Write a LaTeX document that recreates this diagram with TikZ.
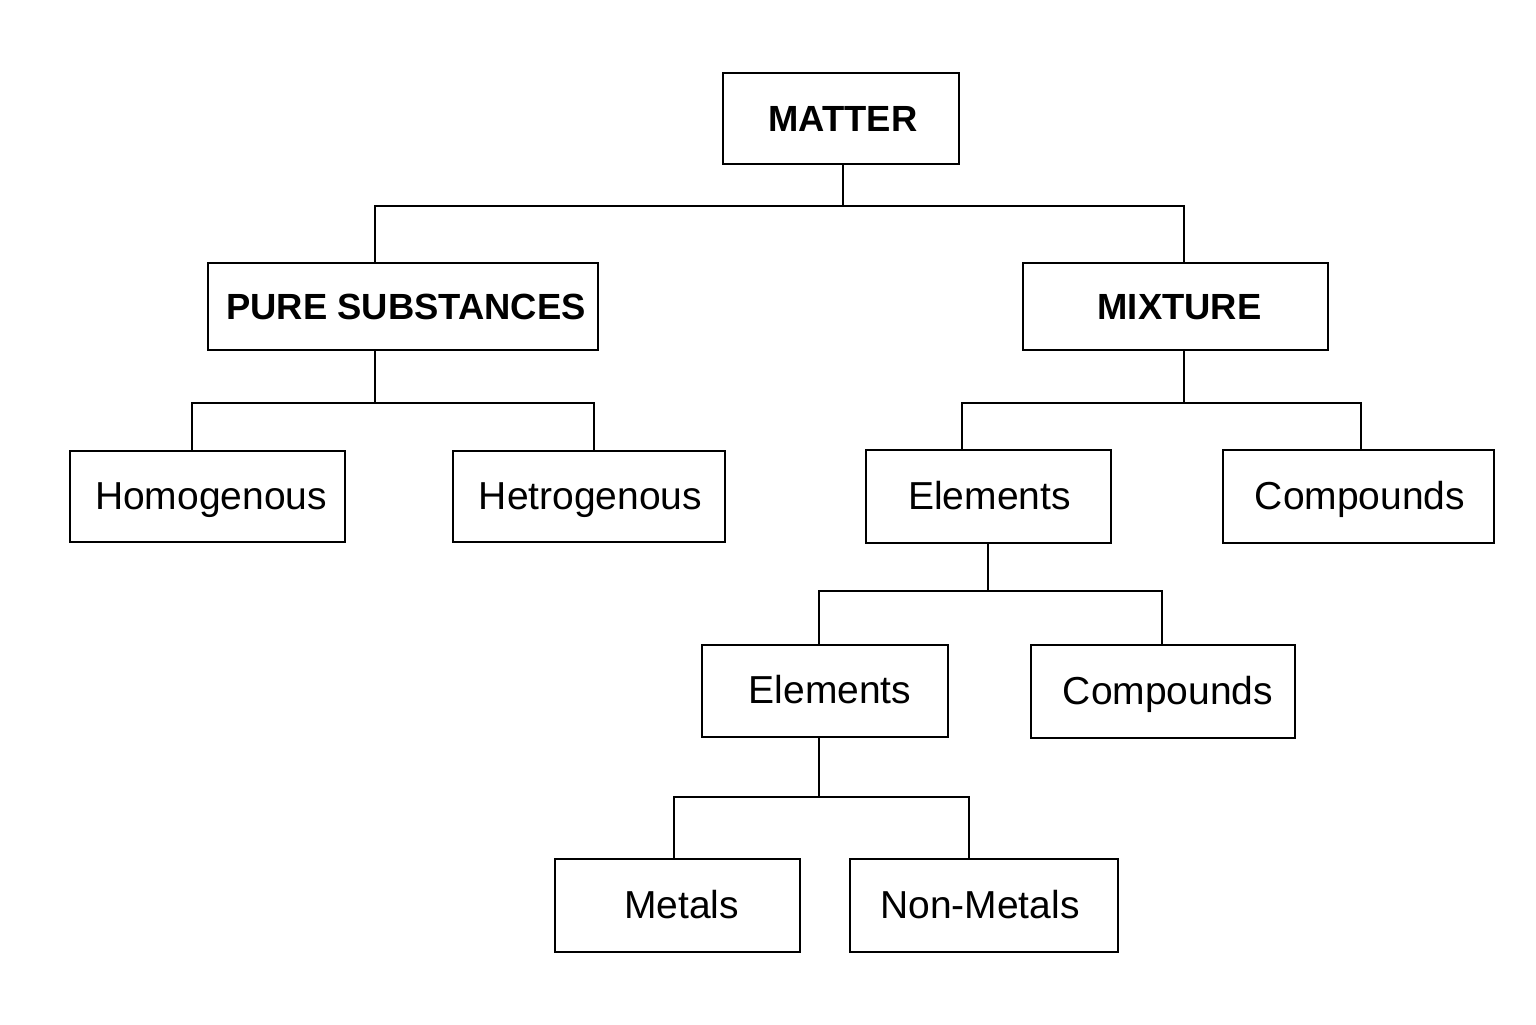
\documentclass[tikz,border=0pt]{standalone}
\usepackage{fontspec}
\setmainfont{Liberation Sans}
\begin{document}
\begin{tikzpicture}[x=0.5pt,y=-0.5pt,
  box/.style={draw, line width=1pt, inner sep=0pt, text height=1.25em, text depth=0pt},
  bold/.style={box, font=\fontsize{18.2}{20}\selectfont\bfseries},
  reg/.style={box, font=\fontsize{19.5}{21}\selectfont},
  conn/.style={line width=0.9pt}]
\useasboundingbox (0,0) rectangle (1536,1024);
\fill[white] (0,0) rectangle (1536,1024);
% boxes
\node[bold, minimum width=118pt, minimum height=45.5pt] (matter) at (841,118.5) {\hspace{2pt}MATTER};
\node[bold, minimum width=195pt, minimum height=43.5pt] (pure) at (403,306.5) {\hspace{3pt}PURE SUBSTANCES};
\node[bold, minimum width=152.5pt, minimum height=43.5pt] (mix) at (1175.5,306.5) {\hspace{4pt}MIXTURE};
\node[reg, minimum width=137.5pt, minimum height=45.5pt] (homo) at (207.5,496.5) {\hspace{3.5pt}Homogenous};
\node[reg, minimum width=136pt, minimum height=45.5pt] (hetro) at (589,496.5) {\hspace{1.5pt}Hetrogenous};
\node[reg, minimum width=122.5pt, minimum height=46.5pt] (elA) at (988.5,496.5) {\hspace{1pt}Elements};
\node[reg, minimum width=135.5pt, minimum height=46.5pt] (coA) at (1358.5,496.5) {\hspace{1.5pt}Compounds};
\node[reg, minimum width=123pt, minimum height=46pt] (elB) at (825,691) {\hspace{5pt}Elements};
\node[reg, minimum width=132pt, minimum height=46.5pt] (coB) at (1163,691.5) {\hspace{5pt}Compounds};
\node[reg, minimum width=122.5pt, minimum height=46.5pt] (met) at (677.5,905.5) {\hspace{4pt}Metals};
\node[reg, minimum width=134pt, minimum height=46.5pt] (non) at (984,905.5) {\hspace{-4pt}Non-Metals};
% junction coordinates
\coordinate (m0) at (843,164);
\coordinate (m1) at (843,206);
\coordinate (pTop) at (375,263);
\coordinate (xTop) at (1184,263);
\coordinate (pBot) at (375,350);
\coordinate (p1) at (375,403);
\coordinate (hTop) at (192,451);
\coordinate (tTop) at (594,451);
\coordinate (xBot) at (1184,350);
\coordinate (x1) at (1184,403);
\coordinate (eTop) at (962,450);
\coordinate (cTop) at (1361,450);
\coordinate (eBot) at (988,543);
\coordinate (e1) at (988,591);
\coordinate (e2Top) at (819,645);
\coordinate (c2Top) at (1162,645);
\coordinate (e2Bot) at (819,737);
\coordinate (f1) at (819,797);
\coordinate (mTop) at (674,859);
\coordinate (nTop) at (969,859);
% connectors
\draw[conn] (m0) -- (m1);
\draw[conn] (pTop) |- (m1) -| (xTop);
\draw[conn] (pBot) -- (p1);
\draw[conn] (hTop) |- (p1) -| (tTop);
\draw[conn] (xBot) -- (x1);
\draw[conn] (eTop) |- (x1) -| (cTop);
\draw[conn] (eBot) -- (e1);
\draw[conn] (e2Top) |- (e1) -| (c2Top);
\draw[conn] (e2Bot) -- (f1);
\draw[conn] (mTop) |- (f1) -| (nTop);
\end{tikzpicture}
\end{document}
